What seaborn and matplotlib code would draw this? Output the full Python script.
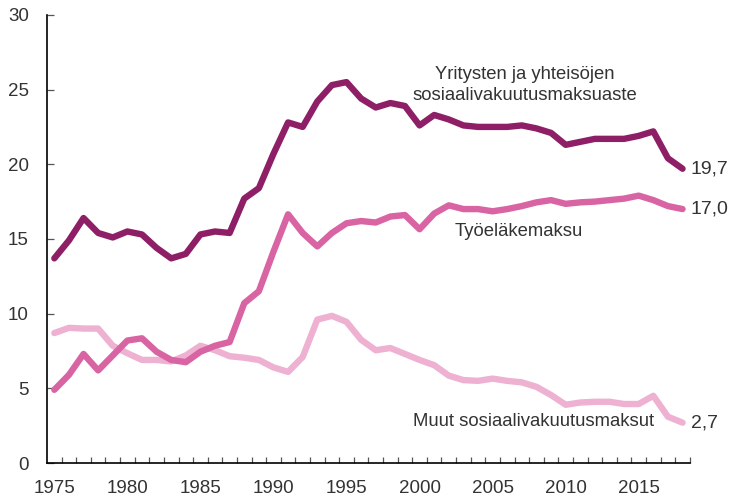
import matplotlib
matplotlib.use("Agg")
import matplotlib.pyplot as plt
import matplotlib.ticker as mticker
import seaborn as sns
import pandas as pd
import numpy as np

years = list(range(1975, 2019))

# Yritysten ja yhteisöjen sosiaalivakuutusmaksuaste
total = [13.7, 14.9, 16.4, 15.4, 15.1, 15.5, 15.3, 14.4, 13.7, 14.0,
         15.3, 15.5, 15.4, 17.7, 18.4, 20.7, 22.8, 22.5, 24.2, 25.3,
         25.5, 24.4, 23.8, 24.1, 23.9, 22.6, 23.3, 23.0, 22.6, 22.5,
         22.5, 22.5, 22.6, 22.4, 22.1, 21.3, 21.5, 21.7, 21.7, 21.7,
         21.9, 22.2, 20.4, 19.7]

# Työeläkemaksu
pension = [4.9, 5.9, 7.3, 6.2, 7.2, 8.2, 8.35, 7.45, 6.9, 6.75,
           7.45, 7.85, 8.1, 10.7, 11.5, 14.15, 16.65, 15.4, 14.5, 15.4,
           16.05, 16.2, 16.1, 16.5, 16.6, 15.65, 16.7, 17.25, 17.0, 17.0,
           16.85, 17.0, 17.2, 17.45, 17.6, 17.35, 17.45, 17.5, 17.6, 17.7,
           17.9, 17.6, 17.2, 17.0]

# Muut sosiaalivakuutusmaksut
other = [8.7, 9.05, 9.0, 9.0, 7.85, 7.35, 6.9, 6.9, 6.8, 7.2,
         7.85, 7.55, 7.15, 7.05, 6.9, 6.4, 6.1, 7.1, 9.6, 9.85,
         9.45, 8.25, 7.55, 7.7, 7.3, 6.9, 6.55, 5.85, 5.55, 5.5,
         5.65, 5.5, 5.4, 5.1, 4.55, 3.9, 4.05, 4.1, 4.1, 3.95,
         3.95, 4.5, 3.1, 2.7]

series_names = ["total", "pension", "other"]
colors = {"total": "#8E1F66", "pension": "#D964A3", "other": "#EEB1D2"}

df = pd.DataFrame({"year": years, "total": total, "pension": pension, "other": other})
long_df = df.melt(id_vars="year", var_name="series", value_name="value")

sns.set_style("ticks")
plt.rcParams["font.family"] = ["Liberation Sans", "DejaVu Sans"]

fig = plt.figure(figsize=(7.3, 4.96), dpi=100)
ax = fig.add_axes([0.0644, 0.0665, 0.8806, 0.9035])

sns.lineplot(data=long_df, x="year", y="value", hue="series", hue_order=series_names[::-1],
             palette=colors, linewidth=4.6, legend=False, ax=ax,
             solid_capstyle="round", solid_joinstyle="round")

ax.set_xlim(1974.5, 2018.5)
ax.set_ylim(0, 30)
ax.set_xlabel("")
ax.set_ylabel("")

ax.xaxis.set_major_locator(mticker.MultipleLocator(5))
ax.xaxis.set_minor_locator(mticker.FixedLocator(np.arange(1975.5, 2018.6, 1)))
ax.tick_params(axis="x", which="major", length=0, pad=12, labelsize=13.5, labelcolor="#333333")
ax.tick_params(axis="x", which="minor", direction="in", length=4, width=0.9, color="#555555")
ax.set_yticks(range(0, 31, 5))
ax.tick_params(axis="y", direction="in", length=5, width=0.9, color="#555555",
               labelsize=13.5, labelcolor="#333333", pad=13)

for side in ["top", "right"]:
    ax.spines[side].set_visible(False)
for side in ["left", "bottom"]:
    ax.spines[side].set_color("black")
    ax.spines[side].set_linewidth(1.2)

txt_kw = dict(fontsize=13.3, color="#333333")
ax.text(2007.2, 25.3, "Yritysten ja yhteisöjen\nsosiaalivakuutusmaksuaste",
        ha="center", va="center", linespacing=1.35, **txt_kw)
ax.text(2006.8, 15.5, "Työeläkemaksu", ha="center", va="center", **txt_kw)
ax.text(2016.05, 2.75, "Muut sosiaalivakuutusmaksut", ha="right", va="center", **txt_kw)

for vals in (total, pension, other):
    ax.text(2018.55, vals[-1], f"{vals[-1]:.1f}".replace(".", ","),
            ha="left", va="center", clip_on=False, fontsize=14, color="#333333")

fig.savefig("out.png", dpi=100)
